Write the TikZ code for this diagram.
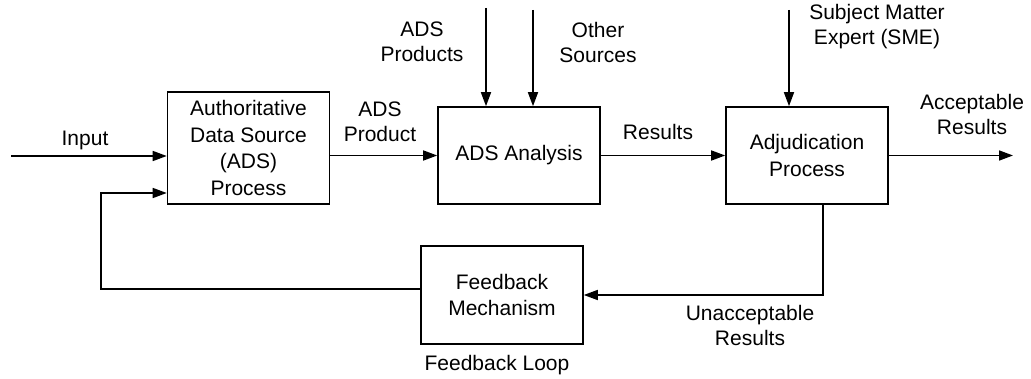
\documentclass[tikz,border=0pt]{standalone}
\usepackage{fontspec}
\setmainfont{Liberation Sans}
\usetikzlibrary{arrows.meta,positioning}

\begin{document}
\begin{tikzpicture}[
  x=1pt,y=-1pt,
  font=\fontsize{21}{25}\selectfont,
  flow/.style={-{Triangle[length=14pt,width=10pt]},line width=1.6pt},
  lab/.style={align=center,inner sep=0pt},
  box/.style={lab,draw,line width=1.6pt,minimum width=162pt,
    font=\fontsize{21}{26.5}\selectfont}
]
\useasboundingbox (0,0) rectangle (1031,379);

% Main chain of process boxes.
\node[box,minimum height=112pt] (ads) at (248.5,148)
  {Authoritative\\Data Source\\(ADS)\\Process};
\node[box,minimum height=97pt] (analysis) at (519,155.5) {ADS Analysis};
\node[box,minimum height=97pt] (adjud) at (807,155.5)
  {Adjudication\\Process};
\node[box,minimum height=98pt] (feedback) at (502,295)
  {Feedback\\Mechanism};

% Free ends of the connectors.
\coordinate (input) at (11,156);
\coordinate (src-ads) at (486,8);
\coordinate (src-other) at (533,10);
\coordinate (src-sme) at (789,10);
\coordinate (accept) at (1013,155.5);
\coordinate (reject) at (823,294);
\coordinate (loop-low) at (101,289);
\coordinate (loop-high) at (101,193);

\draw[flow] (input) -- (input -| ads.west);
\draw[flow] (ads.east |- analysis.west) -- (analysis.west);
\draw[flow] (src-ads) -- (src-ads |- analysis.north);
\draw[flow] (src-other) -- (src-other |- analysis.north);
\draw[flow] (analysis.east) -- (adjud.west);
\draw[flow] (src-sme) -- (src-sme |- adjud.north);
\draw[flow] (adjud.east) -- (accept);
\draw[flow] (reject |- adjud.south) |- (feedback.east);
\draw[flow] (feedback.west |- loop-low) -- (loop-low) -- (loop-high)
  -- (loop-high -| ads.west);

% Labels beside the connectors.
\node[lab] (input-lab) at (85,140) {Input};
\node[lab] (product-lab) at (380,122) {ADS\\Product};
\node[lab] (products-lab) at (422,42) {ADS\\Products};
\node[lab] (other-lab) at (598,42) {Other\\Sources};
\node[lab] (results-lab) at (658,132) {Results};
\node[lab] (sme-lab) at (877,27) {Subject Matter\\Expert (SME)};
\node[lab] (accept-lab) at (972,114) {Acceptable\\Results};
\node[lab] (reject-lab) at (750,325) {Unacceptable\\Results};
\node[lab] (loop-lab) at (497,365) {Feedback Loop};
\end{tikzpicture}
\end{document}
